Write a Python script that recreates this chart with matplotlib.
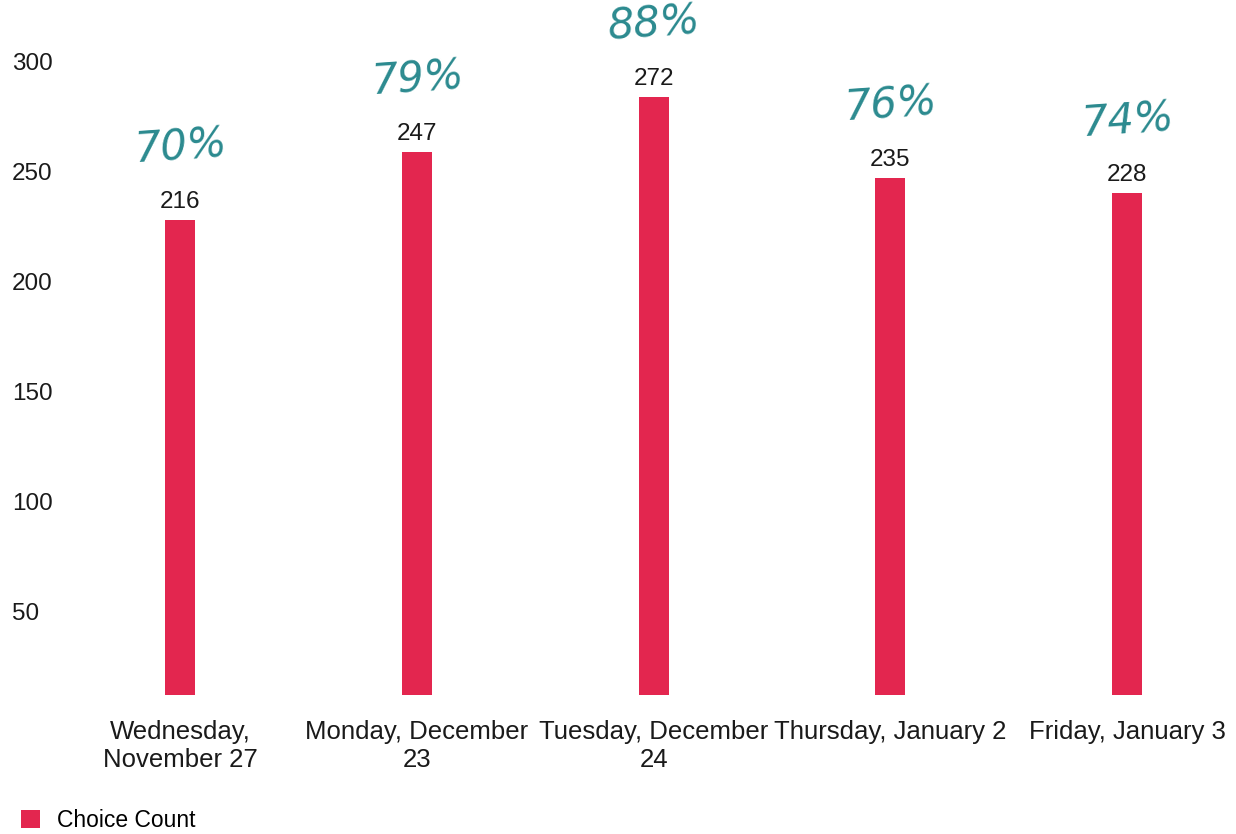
import matplotlib
matplotlib.use('Agg')
import matplotlib.pyplot as plt
import matplotlib.patches as mpatches
from matplotlib.transforms import ScaledTranslation

plt.rcParams['font.family'] = ['Liberation Sans', 'DejaVu Sans']

# data
dates = ['Wednesday,\nNovember 27', 'Monday, December\n23', 'Tuesday, December\n24',
         'Thursday, January 2', 'Friday, January 3']
choice_count = [216, 247, 272, 235, 228]
pct_notes = ['70%', '79%', '88%', '76%', '74%']
y_ticks = [50, 100, 150, 200, 250, 300]

bar_color = '#e3264f'
note_color = '#2b8a8f'

fig = plt.figure(figsize=(12.36, 8.34), dpi=100)
W, H = 1236, 834
ax = fig.add_axes([62 / W, 1 - 695 / H, (1236 - 62) / W, (695 - 20) / H])

x = range(len(dates))
bars = ax.bar(x, choice_count, width=0.127, color=bar_color)

ax.set_xlim(-0.5, 4.46)
ax.set_ylim(0, 306.8)

for bar, val, note in zip(bars, choice_count, pct_notes):
    cx = bar.get_x() + bar.get_width() / 2
    ax.annotate(str(val), (cx, val), xytext=(0, 5), textcoords='offset points',
                ha='center', va='bottom', fontsize=17.5, color='#1a1a1a')
    ax.annotate(note, (cx, val), xytext=(0, 52), textcoords='offset points',
                ha='center', va='center', fontsize=30, color=note_color,
                style='italic', rotation=4, family=['DejaVu Sans'],
                annotation_clip=False)

ax.set_xticks(list(x))
ax.set_xticklabels(dates, fontsize=18.5, color='#1a1a1a', linespacing=1.2)
ax.set_yticks(y_ticks)
ax.set_yticklabels([str(v) for v in y_ticks], fontsize=17.5, color='#1a1a1a', ha='left')
ax.tick_params(axis='x', length=0, pad=18)
ax.tick_params(axis='y', length=0, pad=36)
# the y labels sit a little below their values in the reference
shift = ScaledTranslation(0, -0.27, fig.dpi_scale_trans)
for lbl in ax.get_yticklabels():
    lbl.set_transform(lbl.get_transform() + shift)

for s in ax.spines.values():
    s.set_visible(False)

handle = mpatches.Patch(facecolor=bar_color, label='Choice Count')
fig.legend(handles=[handle], loc='lower left', bbox_to_anchor=(0.0, -0.022),
           frameon=False, fontsize=16.5, handlelength=0.85, handleheight=0.85,
           handletextpad=0.75)

fig.savefig('out.png', dpi=100)
